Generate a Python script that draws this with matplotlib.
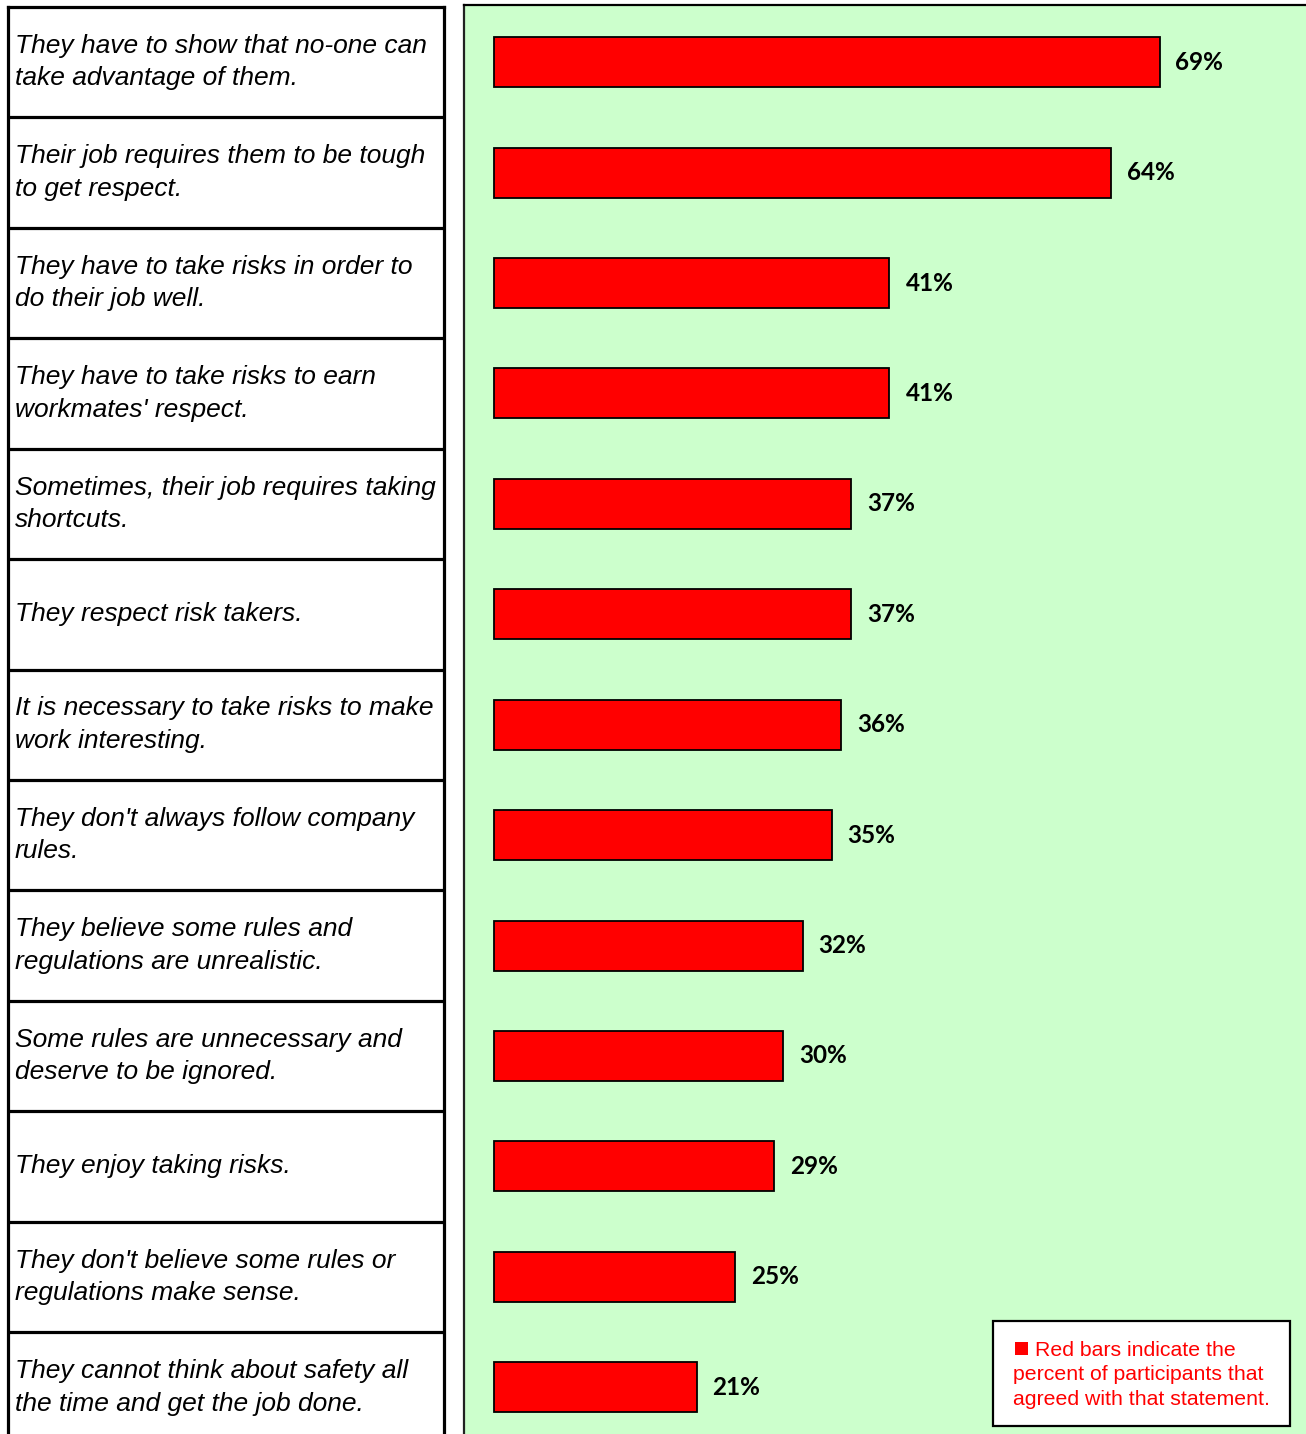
import matplotlib
matplotlib.use("Agg")
import matplotlib.pyplot as plt
from matplotlib.patches import Rectangle

statements = [
    "They have to show that no-one can\ntake advantage of them.",
    "Their job requires them to be tough\nto get respect.",
    "They have to take risks in order to\ndo their job well.",
    "They have to take risks to earn\nworkmates' respect.",
    "Sometimes, their job requires taking\nshortcuts.",
    "They respect risk takers.",
    "It is necessary to take risks to make\nwork interesting.",
    "They don't always follow company\nrules.",
    "They believe some rules and\nregulations are unrealistic.",
    "Some rules are unnecessary and\ndeserve to be ignored.",
    "They enjoy taking risks.",
    "They don't believe some rules or\nregulations make sense.",
    "They cannot think about safety all\nthe time and get the job done.",
]
agree_pct = [69, 64, 41, 41, 37, 37, 36, 35, 32, 30, 29, 25, 21]
note_lines = ["Red bars indicate the",
              "percent of participants that",
              "agreed with that statement."]

W, H = 1306, 1434
ROW = 110.42          # row height in px
K = 9.645             # px per percent
n = len(statements)
bottom_px = 7 + n * ROW

fig = plt.figure(figsize=(W / 100, H / 100), dpi=100)
fig.patch.set_facecolor("white")

# statement table on the left
ax_t = fig.add_axes([8 / W, 1 - bottom_px / H, 436 / W, (bottom_px - 7) / H])
ax_t.set_xlim(0, 1)
ax_t.set_ylim(n, 0)
ax_t.set_xticks([])
ax_t.set_yticks([])
for s in ax_t.spines.values():
    s.set_linewidth(2.3)
for i in range(1, n):
    ax_t.axhline(i, color="black", lw=2.3)
for i, txt in enumerate(statements):
    ax_t.text(7 / 436, i + 0.5, txt, ha="left", va="center",
              fontsize=19, style="italic", family="Liberation Sans",
              linespacing=1.45, color="black")

# bar panel on the right
ax_b = fig.add_axes([464 / W, 1 - bottom_px / H, (1315 - 464) / W, (bottom_px - 5) / H])
ax_b.set_facecolor("#CCFFCC")
ax_b.set_ylim(n, -2 / ROW)
ax_b.set_xlim(-(494 - 464) / K, (1315 - 494) / K)
ax_b.set_xticks([])
ax_b.set_yticks([])
for s in ax_b.spines.values():
    s.set_linewidth(1.6)
    s.set_color("#222222")
ax_b.spines["top"].set_color("black")

ypos = [i + 0.5 for i in range(n)]
bars = ax_b.barh(ypos, agree_pct, height=0.453, left=0,
                 color="#FF0000", edgecolor="black", linewidth=1.3)
ax_b.bar_label(bars, labels=[f"{v}%" for v in agree_pct], padding=11.5,
               fontsize=17.5, fontweight="bold", family="Lato", color="black")

# note box in the lower right corner
fig.patches.append(Rectangle((993 / W, 1 - 1426 / H), (1290 - 993) / W, (1426 - 1321) / H,
                             transform=fig.transFigure, facecolor="white",
                             edgecolor="black", linewidth=1.6, zorder=5))
fig.patches.append(Rectangle((1015 / W, 1 - 1355 / H), 13 / W, 13 / H,
                             transform=fig.transFigure, facecolor="#FF0000",
                             edgecolor="none", zorder=6))
for j, line in enumerate(note_lines):
    x0 = 1035 if j == 0 else 1013
    fig.text(x0 / W, 1 - (1356 + 24.5 * j) / H, line, ha="left", va="baseline",
             fontsize=15.3, color="#FF0000", family="Liberation Sans", zorder=6)

fig.savefig("out.png", dpi=100)
